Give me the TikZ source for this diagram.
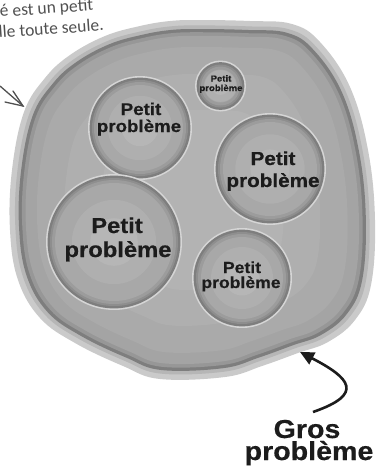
\documentclass[tikz,border=0pt]{standalone}
\usepackage{fontspec}
\usetikzlibrary{arrows.meta}
\newfontfamily\heavy{Liberation Sans}[FakeStretch=1.1,FakeBold=0.5]
\newfontfamily\hand{Carlito}
\definecolor{rimA}{HTML}{CACACA}
\definecolor{rimB}{HTML}{B6B6B6}
\definecolor{band}{HTML}{7E7E7E}
\definecolor{bandB}{HTML}{979797}
\definecolor{blA}{HTML}{A4A4A4}
\definecolor{blB}{HTML}{AAAAAA}
\definecolor{blC}{HTML}{AFAFAF}
\definecolor{blD}{HTML}{B3B3B3}
\definecolor{bubEdge}{HTML}{D6D6D6}
\definecolor{bubA}{HTML}{7E7E7E}
\definecolor{bubB}{HTML}{8E8E8E}
\definecolor{bubC}{HTML}{9C9C9C}
\definecolor{bubD}{HTML}{A8A8A8}
\definecolor{bubE}{HTML}{AFAFAF}
\definecolor{bubF}{HTML}{B6B6B6}
\definecolor{ink}{HTML}{1C1C1C}
\definecolor{pencil}{HTML}{505050}
\newcommand\blobshape[2]{\path[#1, scale around={#2:(192,200)}] plot[smooth cycle, tension=0.65] coordinates {(200,20) (250,21) (292,24) (320,42) (350,87) (368,150) (375,220) (371,285) (355,320) (328,342) (298,353) (262,366) (225,377) (160,379) (123,366) (75,343) (40,318) (18,280) (10,230) (12,170) (24,112) (45,78) (70,55) (105,36) (140,26) (170,21)};}
\newcommand\bubble[4]{%
  \node[circle, inner sep=0pt, fill=bubEdge, minimum size=2*#4] (#1) at (#2,#3) {};
  \fill[bubA] (#1.center) circle[radius=#4-1.6];
  \fill[bubB] (#1.center) circle[radius=#4-4];
  \fill[bubC] (#1.center) circle[radius=#4-6];
  \fill[bubD] (#1.center) circle[radius=#4-9];
  \fill[bubE] (#1.center) circle[radius=0.62*#4];
  \fill[bubF] (#1.center) circle[radius=0.35*#4];
}
\tikzset{
  lbl/.style={anchor=base, inner sep=0pt, text=ink, font=\heavy\bfseries\fontsize{#1}{#1}\selectfont},
  handtxt/.style={anchor=base west, inner sep=0pt, text=pencil, font=\hand\fontsize{17.5}{18}\selectfont, rotate=4},
  pen/.style={draw=pencil, line width=1.3pt, line cap=round}
}
\begin{document}
\begin{tikzpicture}[x=1pt,y=-1pt]
\useasboundingbox (0,0) rectangle (376,472);
% big blob
\blobshape{fill=rimA}{1}
\blobshape{fill=rimB}{0.97}
\blobshape{fill=band}{0.95}
\blobshape{fill=bandB}{0.932}
\blobshape{fill=blA}{0.912}
\blobshape{fill=blB}{0.85}
\blobshape{fill=blC}{0.7}
\blobshape{fill=blD}{0.5}
% small problems
\bubble{c1}{140}{128}{52}
\bubble{c2}{220.5}{86}{25.5}
\bubble{c3}{270}{169}{56}
\bubble{c4}{114}{242}{68}
\bubble{c5}{242}{278}{50}
\node[lbl=17] (t1a) at (141,115) {Petit};
\node[lbl=17] (t1b) at (139,132) {problème};
\node[lbl=8.7] (t2a) at (221,81.5) {Petit};
\node[lbl=8.7] (t2b) at (221,91) {problème};
\node[lbl=18.8] (t3a) at (273,165) {Petit};
\node[lbl=18.8] (t3b) at (273,187) {problème};
\node[lbl=21.6] (t4a) at (117,233) {Petit};
\node[lbl=21.6] (t4b) at (118,257) {problème};
\node[lbl=16] (t5a) at (242,273) {Petit};
\node[lbl=16] (t5b) at (241,288) {problème};
% big label
\node[lbl=26] (g1) at (307,438) {Gros};
\node[lbl=26] (g2) at (309,460) {problème};
\coordinate (gtail) at (313,412);
\coordinate (gtip) at (300,352);
\draw[ink, line width=2.6pt, -{Triangle[length=14pt,width=13pt]}] (gtail) .. controls (365,394) and (350,378) .. (gtip);
% handwritten note
\node[handtxt] (h1) at (0,17) {é est un petit};
\node[handtxt] (h2) at (-1,38) {lle toute seule.};
\coordinate (ha) at (0,86);
\coordinate (hb) at (23,106);
\coordinate (hc) at (5,102);
\coordinate (hd) at (13,91);
\draw[pen] (ha) -- (hb);
\draw[pen] (hc) -- (hb) -- (hd);
\end{tikzpicture}
\end{document}
